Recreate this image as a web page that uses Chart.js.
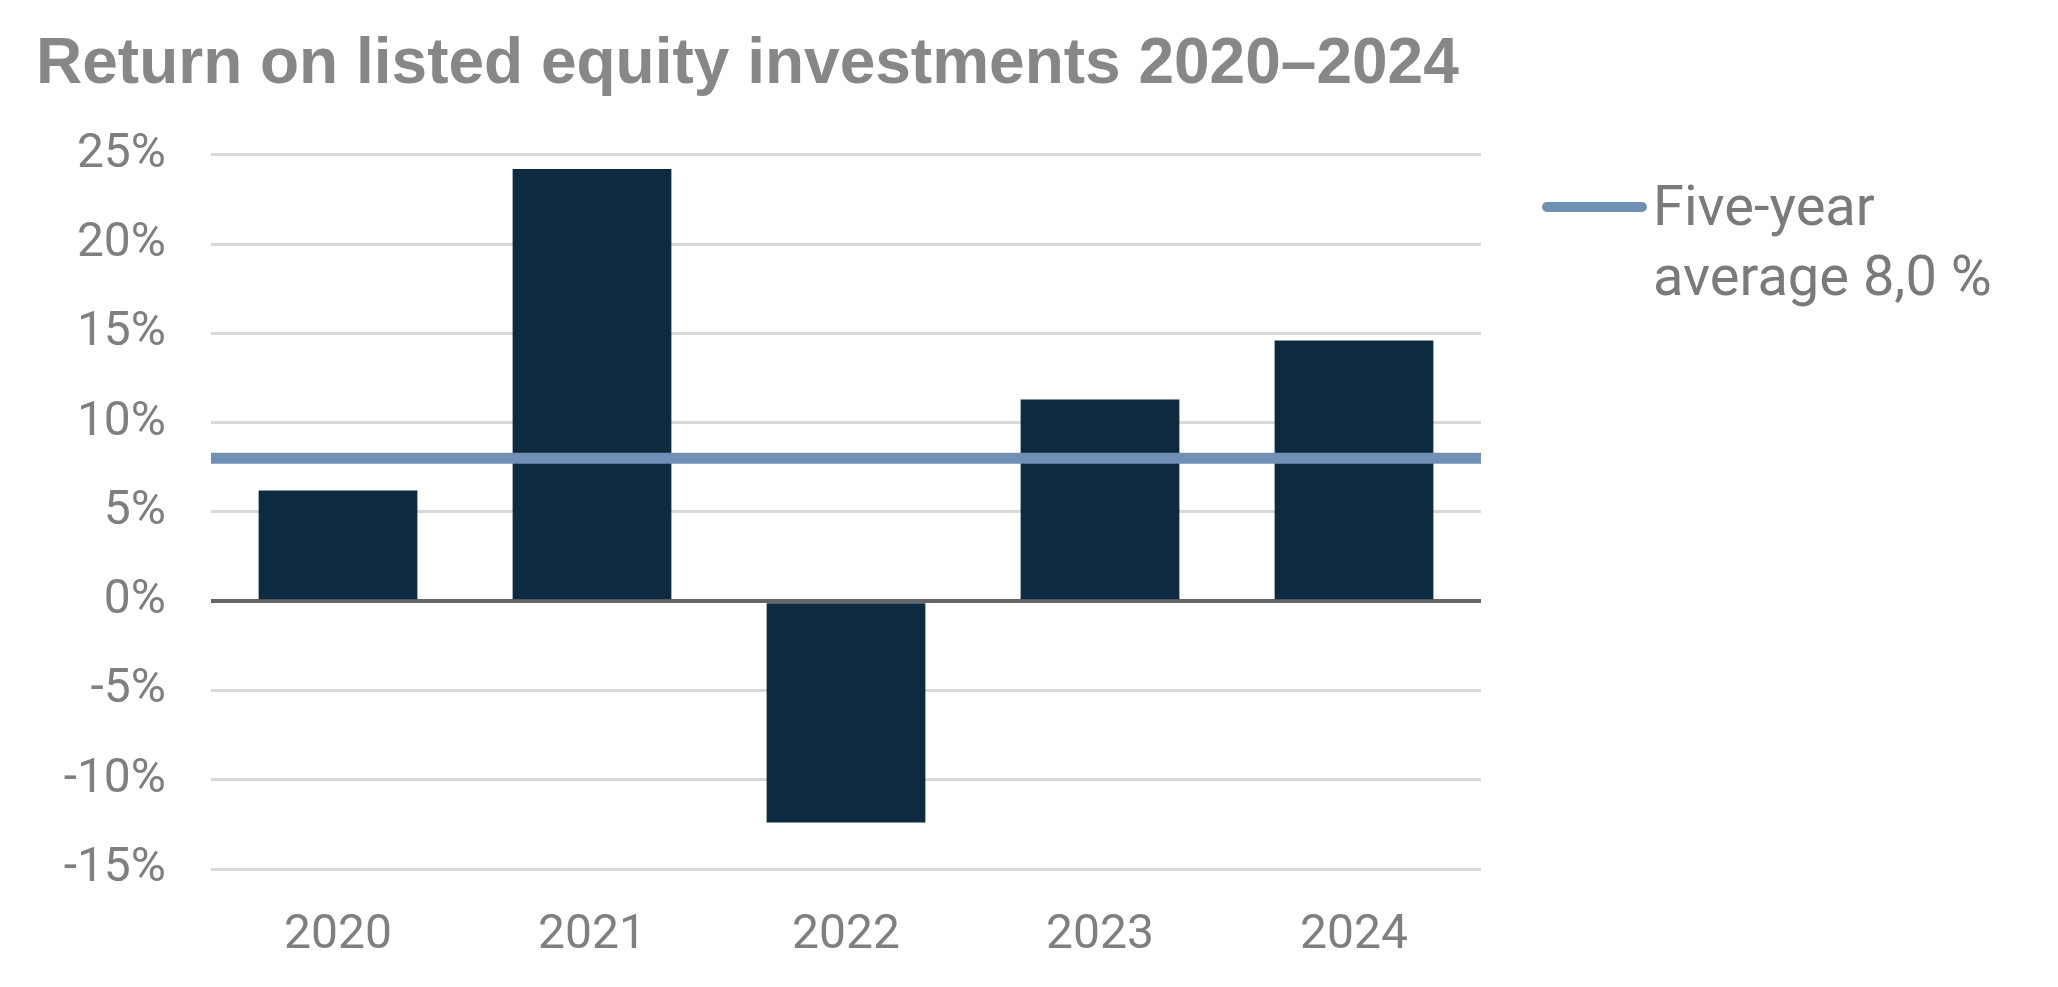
<!DOCTYPE html>
<html>
<head>
<meta charset="utf-8">
<script src="https://cdn.jsdelivr.net/npm/chart.js@4.4.1/dist/chart.umd.min.js"></script>
<style>
    html, body { margin: 0; padding: 0; background: #ffffff; }
    #wrap { position: relative; width: 2058px; height: 987px; }
    #legend { position: absolute; left: 1542px; top: 171px; font-family: Roboto, sans-serif; }
    #legend .swatch { position: absolute; left: 0; top: 31px; width: 105px; height: 10px; border-radius: 5px; background: #7091b5; }
    #legend .text { position: absolute; left: 111px; top: 0; font-size: 56px; line-height: 70px; color: #7a7a7a; white-space: nowrap; }
</style>
</head>
<body>
<div id="wrap">
    <canvas id="equityChart" width="2058" height="987"></canvas>
    <div id="legend">
        <div class="swatch"></div>
        <div class="text">Five-year<br>average 8,0 %</div>
    </div>
</div>
<script>
// =====================================================
// Data
// =====================================================

const titleText = 'Return on listed equity investments 2020\u20132024';
const years = ['2020', '2021', '2022', '2023', '2024'];
const returns = [6.2, 24.2, -12.4, 11.3, 14.6];
const fiveYearAverage = 8.0;
const yTicks = [-15, -10, -5, 0, 5, 10, 15, 20, 25];

// Average line spans the full category range (edge to edge)
const averagePoints = [
    { x: 0, y: fiveYearAverage },
    { x: years.length, y: fiveYearAverage }
];

// =====================================================
// Chart
// =====================================================

const textGray = '#7f7f7f';

const ctx = document.getElementById('equityChart');

new Chart(ctx, {
    type: 'bar',
    data: {
        labels: years,
        datasets: [{
            type: 'line',
            label: 'Five-year average 8,0 %',
            data: averagePoints,
            xAxisID: 'xEdge',
            borderColor: '#7091b5',
            borderWidth: 11,
            pointRadius: 0,
            fill: false,
            order: 0
        }, {
            type: 'bar',
            label: 'Return',
            data: returns,
            xAxisID: 'x',
            backgroundColor: '#0e2a40',
            borderWidth: 0,
            grouped: false,
            categoryPercentage: 1.0,
            barPercentage: 0.625,
            order: 1
        }]
    },
    options: {
        responsive: false,
        animation: false,
        events: [],
        layout: {
            padding: { left: 36, right: 577, top: 0, bottom: 0 }
        },
        plugins: {
            legend: { display: false },
            tooltip: { enabled: false },
            title: {
                display: true,
                text: titleText,
                align: 'start',
                color: '#878787',
                font: { family: '"Liberation Sans Narrow", sans-serif', size: 64, weight: 'bold', lineHeight: 1.2 },
                padding: { top: 27, bottom: 51 }
            }
        },
        scales: {
            x: {
                grid: { display: false, drawTicks: false },
                border: { display: false },
                ticks: {
                    color: textGray,
                    font: { family: 'Roboto, sans-serif', size: 48 },
                    padding: 38
                },
                afterFit: function(scale) {
                    scale.height = 118;
                }
            },
            xEdge: {
                type: 'linear',
                display: false,
                offset: false,
                grid: { offset: false },
                min: 0,
                max: years.length
            },
            y: {
                min: yTicks[0],
                max: yTicks[yTicks.length - 1],
                afterBuildTicks: function(scale) {
                    scale.ticks = yTicks.map(v => ({ value: v }));
                },
                grid: {
                    drawTicks: false,
                    color: function(c) {
                        return c.tick && c.tick.value === 0 ? '#666666' : '#d9d9d9';
                    },
                    lineWidth: function(c) {
                        return c.tick && c.tick.value === 0 ? 4 : 3;
                    }
                },
                border: { display: false },
                ticks: {
                    color: textGray,
                    font: { family: 'Roboto, sans-serif', size: 48 },
                    padding: 45,
                    callback: function(value) {
                        return value + '%';
                    }
                },
                afterFit: function(scale) {
                    scale.width = 211 - 36;
                }
            }
        }
    }
});
</script>
</body>
</html>
